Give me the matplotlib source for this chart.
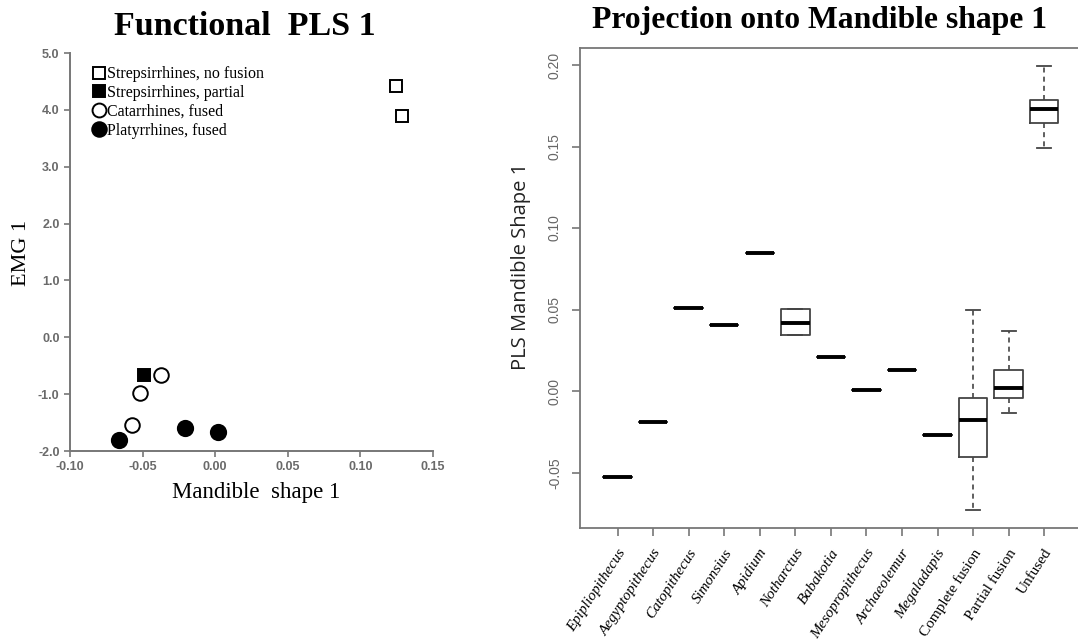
import numpy as np
import matplotlib
matplotlib.use("Agg")
import matplotlib.pyplot as plt
from matplotlib.lines import Line2D
from matplotlib.transforms import ScaledTranslation

# ---------------- left panel: Functional PLS 1 ----------------
GROUPS = ["Strepsirrhines, no fusion", "Strepsirrhines, partial",
          "Catarrhines, fused", "Platyrrhines, fused"]
strep_nofus_x = [0.1245, 0.1287]
strep_nofus_y = [4.42, 3.90]
strep_part_x = [-0.049]
strep_part_y = [-0.67]
catarr_x = [-0.0373, -0.0518, -0.0573]
catarr_y = [-0.67, -0.98, -1.55]
platyr_x = [-0.0662, -0.0208, 0.0018]
platyr_y = [-1.80, -1.60, -1.66]

# ---------------- right panel: projection boxplots ----------------
CATS = ["Epipliopithecus", "Aegyptopithecus", "Catopithecus", "Simonsius",
        "Apidium", "Notharctus", "Babakotia", "Mesopropithecus",
        "Archaeolemur", "Megaladapis", "Complete fusion", "Partial fusion",
        "Unfused"]
ITALIC = [True] * 10 + [False] * 3
med    = [-0.0524, -0.0187, 0.0508, 0.0404, 0.0849, 0.0420, 0.0212, 0.0007,
          0.0130, -0.0267, -0.0177, 0.0018, 0.1730]
q1     = [-0.0524, -0.0187, 0.0508, 0.0404, 0.0849, 0.0343, 0.0212, 0.0007,
          0.0130, -0.0267, -0.0405, -0.0044, 0.1646]
q3     = [-0.0524, -0.0187, 0.0508, 0.0404, 0.0849, 0.0502, 0.0212, 0.0007,
          0.0130, -0.0267, -0.0044, 0.0130, 0.1785]
whislo = [-0.0524, -0.0187, 0.0508, 0.0404, 0.0849, 0.0343, 0.0212, 0.0007,
          0.0130, -0.0267, -0.0728, -0.0135, 0.1489]
whishi = [-0.0524, -0.0187, 0.0508, 0.0404, 0.0849, 0.0502, 0.0212, 0.0007,
          0.0130, -0.0267, 0.0500, 0.0371, 0.1996]

SERIF = ["Liberation Serif", "DejaVu Serif"]
SANS = ["Liberation Sans", "DejaVu Sans"]

W, H = 1078, 644
fig = plt.figure(figsize=(W / 100, H / 100), dpi=100)

def px_axes(l, t, r, b):
    return fig.add_axes([l / W, 1 - b / H, (r - l) / W, (b - t) / H])

# ---- left ----
ax = px_axes(70, 53, 433, 451)
mk = dict(color="black", linestyle="none", markeredgewidth=1.4)
ax.plot(strep_nofus_x, strep_nofus_y, marker="s", ms=8.5, mfc="white", mec="black", **mk)
ax.plot(strep_part_x, strep_part_y, marker="s", ms=8.5, mfc="black", mec="black", **mk)
ax.plot(catarr_x, catarr_y, marker="o", ms=10.5, mfc="white", mec="black", **mk)
ax.plot(platyr_x, platyr_y, marker="o", ms=11, mfc="black", mec="black", **mk)
ax.set_xlim(-0.10, 0.15)
ax.set_ylim(-2.0, 5.0)
ax.set_xticks(np.arange(-0.10, 0.151, 0.05))
ax.set_xticklabels([f"{v:.2f}" for v in np.arange(-0.10, 0.151, 0.05)])
ax.set_yticks(np.arange(-2, 5.1, 1))
ax.set_yticklabels([f"{v:.1f}" for v in np.arange(-2, 5.1, 1)])
for s in ["top", "right"]:
    ax.spines[s].set_visible(False)
for s in ["left", "bottom"]:
    ax.spines[s].set_color("#777777")
    ax.spines[s].set_linewidth(1.4)
ax.tick_params(colors="#777777", labelcolor="#6a6a6a", labelsize=9, length=4, width=1.2)
for lb in ax.get_xticklabels() + ax.get_yticklabels():
    lb.set_family(SANS)
    lb.set_weight("bold")

handles = [
    Line2D([], [], marker="s", ms=8, mfc="white", **mk),
    Line2D([], [], marker="s", ms=8, mfc="black", **mk),
    Line2D([], [], marker="o", ms=10, mfc="white", **mk),
    Line2D([], [], marker="o", ms=10.5, mfc="black", **mk),
]
leg = ax.legend(handles, GROUPS, loc="upper left", bbox_to_anchor=(0.062, 0.967),
                frameon=False, handlelength=0.8, handletextpad=0.1,
                labelspacing=0.18, borderaxespad=0, borderpad=0,
                prop=dict(family=SERIF, size=11.5))

fig.text(245 / W, 1 - 35 / H, "Functional  PLS 1", family=SERIF, weight="bold",
         size=24.5, ha="center", va="baseline")
fig.text(256 / W, 1 - 498 / H, "Mandible  shape 1", family=SERIF, size=16.5,
         ha="center", va="baseline")
fig.text(21 / W, 1 - 253 / H, "EMG 1", family=SERIF, size=16, rotation=90,
         ha="center", va="center")

# ---- right ----
bx = px_axes(580, 48, 1080, 528)
stats = [dict(label=c, med=m, q1=a, q3=b, whislo=lo, whishi=hi, fliers=[])
         for c, m, a, b, lo, hi in zip(CATS, med, q1, q3, whislo, whishi)]
pos = np.arange(1, len(CATS) + 1)
bx.bxp(stats, positions=pos, widths=0.8, capwidths=0.4, showfliers=False,
       boxprops=dict(color="#444444", linewidth=1.3),
       medianprops=dict(color="black", linewidth=2.8, solid_capstyle="butt"),
       whiskerprops=dict(color="#444444", linewidth=1.2, linestyle=(0, (3, 2.5))),
       capprops=dict(color="#444444", linewidth=1.3))
bx.set_xlim(-0.058, 14.007)
bx.set_ylim(-0.0839, 0.2104)
bx.set_yticks([-0.05, 0.0, 0.05, 0.10, 0.15, 0.20])
bx.set_yticklabels(["-0.05", "0.00", "0.05", "0.10", "0.15", "0.20"],
                   rotation=90, va="center", family=SANS)
bx.spines["right"].set_visible(False)
for s in ["left", "bottom", "top"]:
    bx.spines[s].set_color("#777777")
    bx.spines[s].set_linewidth(1.3)
bx.tick_params(axis="both", colors="#777777", width=1.2, length=6)
bx.tick_params(axis="y", labelcolor="#666666", labelsize=10, pad=7)
bx.tick_params(axis="x", pad=10, labelcolor="black")
bx.set_xticks(pos)
bx.set_xticklabels(CATS, rotation=57, ha="right", va="center",
                   rotation_mode="anchor")
off = ScaledTranslation(5 / 100, 0, fig.dpi_scale_trans)
for lb, it in zip(bx.get_xticklabels(), ITALIC):
    lb.set_family(SERIF)
    lb.set_fontsize(11)
    lb.set_fontstyle("italic" if it else "normal")
    lb.set_transform(lb.get_transform() + off)

fig.text(521 / W, 1 - 266 / H, "PLS Mandible Shape 1", family=["Open Sans", "DejaVu Sans"],
         size=14.5, rotation=90, color="#222222", ha="center", va="center")
fig.text(820 / W, 1 - 28 / H, "Projection onto Mandible shape 1", family=SERIF,
         weight="bold", size=22.8, ha="center", va="baseline")

fig.savefig("out.png", dpi=100)
